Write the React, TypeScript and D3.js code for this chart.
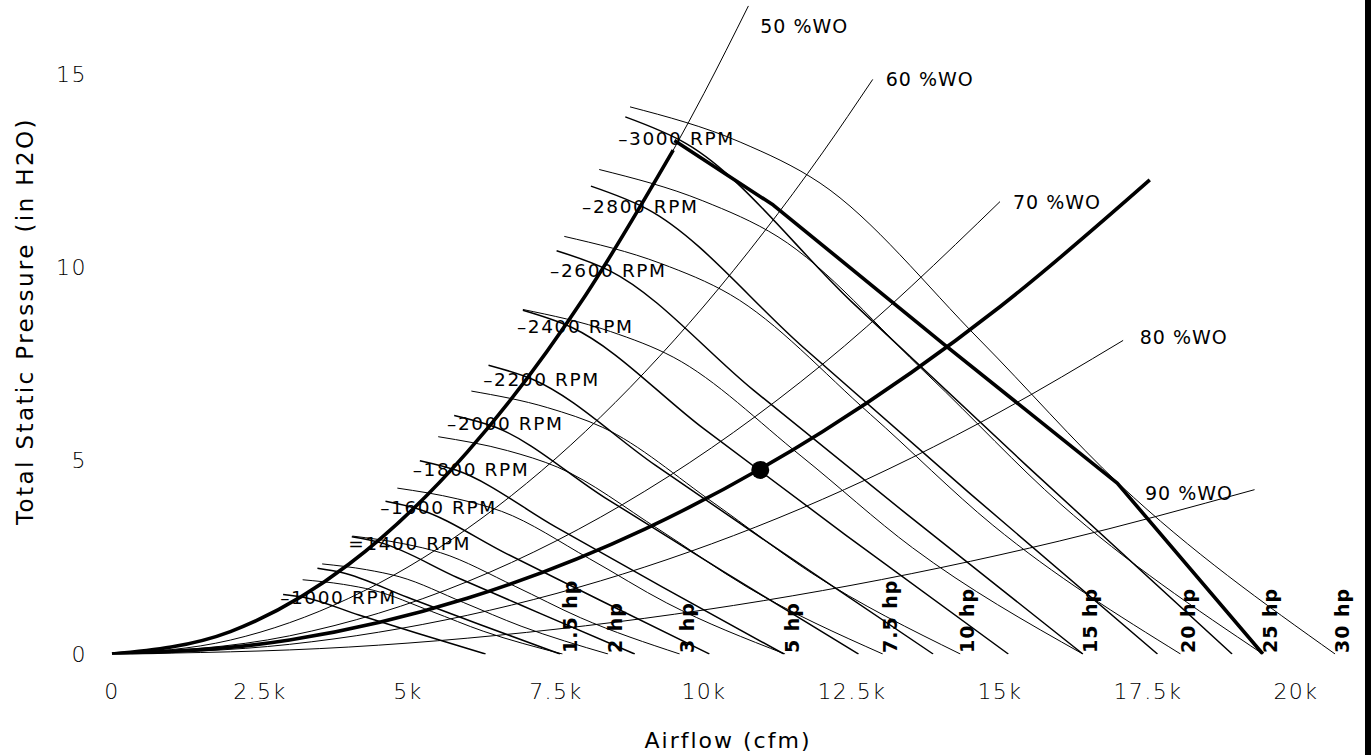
import React from 'react';
import * as d3 from 'd3';

const W = 1371;
const H = 755;

// axis ticks
const xTickValues = [0, 2.5, 5, 7.5, 10, 12.5, 15, 17.5, 20];
const xTickLabels = ['0', '2.5k', '5k', '7.5k', '10k', '12.5k', '15k', '17.5k', '20k'];
const yTickValues = [0, 5, 10, 15];
const yTickLabels = ['0', '5', '10', '15'];

// fan speed curves: [airflow (k cfm), static pressure (in H2O)]
const rpmNames = ['1000', '1200', '1400', '1600', '1800', '2000', '2200', '2400', '2600', '2800', '3000'];
const rpm1000 = [[2.89, 1.54], [3.23, 1.47], [4.17, 1.01], [5.17, 0.53], [6.31, 0]];
const rpm1200 = [[3.47, 2.22], [3.88, 2.11], [5.0, 1.46], [6.2, 0.77], [7.57, 0]];
const rpm1400 = [[4.05, 3.03], [4.53, 2.88], [5.83, 1.98], [7.23, 1.05], [8.83, 0]];
const rpm1600 = [[4.62, 3.95], [5.17, 3.75], [6.67, 2.59], [8.27, 1.37], [10.09, 0]];
const rpm1800 = [[5.2, 5.0], [5.82, 4.75], [7.5, 3.28], [9.3, 1.73], [11.35, 0]];
const rpm2000 = [[5.78, 6.17], [6.47, 5.87], [8.33, 4.04], [10.33, 2.13], [12.61, 0]];
const rpm2200 = [[6.36, 7.47], [7.11, 7.1], [9.17, 4.89], [11.37, 2.58], [13.87, 0]];
const rpm2400 = [[6.94, 8.89], [7.76, 8.45], [10.0, 5.82], [12.4, 3.07], [15.14, 0]];
const rpm2600 = [[7.51, 10.43], [8.41, 9.91], [10.83, 6.83], [13.43, 3.61], [16.4, 0]];
const rpm2800 = [[8.09, 12.1], [9.05, 11.5], [11.67, 7.94], [14.47, 4.18], [17.66, 0]];
const rpm3000 = [[8.67, 13.89], [9.7, 13.2], [12.5, 9.1], [15.5, 4.8], [18.92, 0]];
const rpmCurves = [rpm1000, rpm1200, rpm1400, rpm1600, rpm1800, rpm2000, rpm2200, rpm2400, rpm2600, rpm2800, rpm3000];

// RPM label anchors (airflow, pressure)
const rpmLabelText = ['–3000 RPM', '–2800 RPM', '–2600 RPM', '–2400 RPM', '–2200 RPM', '–2000 RPM', '–1800 RPM', '–1600 RPM', '=1400 RPM', '–1000 RPM'];
const rpmLabelQ = [8.55, 7.94, 7.4, 6.84, 6.27, 5.66, 5.08, 4.53, 3.99, 2.84];
const rpmLabelP = [13.34, 11.56, 9.93, 8.48, 7.11, 5.95, 4.78, 3.78, 2.87, 1.45];

// brake horsepower curves
const hpNames = ['1.5 hp', '2 hp', '3 hp', '5 hp', '7.5 hp', '10 hp', '15 hp', '20 hp', '25 hp', '30 hp'];
const hp1_5 = [[3.22, 1.92], [3.91, 1.8], [4.41, 1.65], [5.4, 1.1], [6.27, 0.59], [7.61, 0]];
const hp2 = [[3.55, 2.33], [4.3, 2.18], [4.85, 2.0], [5.94, 1.33], [6.91, 0.72], [8.38, 0]];
const hp3 = [[4.06, 3.05], [4.93, 2.85], [5.55, 2.62], [6.81, 1.75], [7.91, 0.94], [9.59, 0]];
const hp5 = [[4.82, 4.29], [5.84, 4.01], [6.58, 3.69], [8.07, 2.46], [9.37, 1.32], [11.37, 0]];
const hp7_5 = [[5.51, 5.62], [6.68, 5.26], [7.53, 4.83], [9.24, 3.22], [10.73, 1.73], [13.02, 0]];
const hp10 = [[6.07, 6.8], [7.36, 6.37], [8.29, 5.86], [10.17, 3.9], [11.81, 2.1], [14.33, 0]];
const hp15 = [[6.94, 8.91], [8.42, 8.34], [9.49, 7.67], [11.64, 5.12], [13.52, 2.75], [16.4, 0]];
const hp20 = [[7.64, 10.8], [9.27, 10.1], [10.45, 9.29], [12.81, 6.2], [14.88, 3.33], [18.05, 0]];
const hp25 = [[8.23, 12.53], [9.98, 11.72], [11.25, 10.79], [13.8, 7.19], [16.03, 3.87], [19.44, 0]];
const hp30 = [[8.75, 14.15], [10.61, 13.24], [11.96, 12.18], [14.66, 8.12], [17.03, 4.37], [20.66, 0]];
const hpCurves = [hp1_5, hp2, hp3, hp5, hp7_5, hp10, hp15, hp20, hp25, hp30];

// % wide open system lines
const woNames = ['50 %WO', '60 %WO', '70 %WO', '80 %WO', '90 %WO'];
const wo50 = [[0, 0], [2, 0.58], [4, 2.32], [6, 5.22], [8, 9.28], [10, 14.5], [10.75, 16.76]];
const wo60 = [[0, 0], [2, 0.36], [4, 1.44], [6, 3.24], [8, 5.76], [10, 9.0], [12, 12.96], [12.85, 14.86]];
const wo70 = [[0, 0], [3, 0.47], [6, 1.87], [9, 4.21], [12, 7.49], [15, 11.7]];
const wo80 = [[0, 0], [3, 0.25], [6, 1.0], [9, 2.25], [12, 4.0], [15, 6.26], [17.08, 8.11]];
const wo90 = [[0, 0], [4, 0.18], [8, 0.73], [12, 1.64], [16, 2.92], [19.3, 4.25]];
const woCurves = [wo50, wo60, wo70, wo80, wo90];
const woLabelQ = [10.95, 13.07, 15.22, 17.36, 17.45];
const woLabelP = [16.24, 14.87, 11.69, 8.2, 4.16];

// bold envelope lines
const surgeLine = [[0, 0], [2, 0.58], [4, 2.32], [6, 5.22], [8, 9.28], [9.48, 13.03]];
const maxLine = [[9.5, 13.28], [11.17, 11.61], [14.07, 7.99], [16.98, 4.42], [19.44, 0]];
const systemCurve = [[0, 0], [3, 0.36], [6, 1.44], [9, 3.23], [12, 5.75], [15, 8.98], [17.53, 12.26]];
const operatingPoint = [10.95, 4.76];

const FONT = '"DejaVu Sans", sans-serif';

export default function App() {
  const x = d3.scaleLinear().domain([0, 20]).range([112, 1296]);
  const y = d3.scaleLinear().domain([0, 15]).range([654, 74]);
  const smooth = d3.line<number[]>().x(d => x(d[0])).y(d => y(d[1])).curve(d3.curveMonotoneX);
  const straight = d3.line<number[]>().x(d => x(d[0])).y(d => y(d[1])).curve(d3.curveLinear);

  return (
    <svg width={W} height={H} style={{ position: 'absolute', left: 0, top: 0, background: '#fff' }} fontFamily={FONT}>
      <rect x={0} y={0} width={W} height={H} fill="#fff" />
      <defs>
        <clipPath id="plotClip">
          <rect x={0} y={0} width={1360} height={y(0) + 0.5} />
        </clipPath>
      </defs>
      <g clipPath="url(#plotClip)" fill="none" stroke="#000">
        {woCurves.map((c, i) => (
          <path key={'wo' + i} d={smooth(c) || ''} strokeWidth={1} />
        ))}
        {hpCurves.map((c, i) => (
          <path key={'hp' + i} d={smooth(c) || ''} strokeWidth={1} />
        ))}
        {rpmCurves.map((c, i) => (
          <path key={'rpm' + i} d={smooth(c) || ''} strokeWidth={1.5} />
        ))}
        <path d={smooth(surgeLine) || ''} strokeWidth={3.6} />
        <path d={straight(maxLine) || ''} strokeWidth={3.6} strokeLinejoin="round" />
        <path d={smooth(systemCurve) || ''} strokeWidth={3.6} />
      </g>
      <circle cx={x(operatingPoint[0])} cy={y(operatingPoint[1])} r={9} fill="#000" />

      {rpmLabelText.map((t, i) => (
        <text key={'rl' + i} x={x(rpmLabelQ[i])} y={y(rpmLabelP[i])} dy="0.35em" fontSize={18.5} letterSpacing={1.6} fill="#000">{t}</text>
      ))}
      {woNames.map((t, i) => (
        <text key={'wl' + i} x={x(woLabelQ[i])} y={y(woLabelP[i])} dy="0.35em" fontSize={19} letterSpacing={1} fill="#000">{t}</text>
      ))}
      {hpCurves.map((c, i) => {
        const end = c[c.length - 1];
        return (
          <text key={'hl' + i} transform={`translate(${x(end[0]) + 14},${y(0) - 1}) rotate(-90)`} fontSize={19} fontWeight="bold" letterSpacing={1} fill="#000">{hpNames[i]}</text>
        );
      })}

      {xTickValues.map((v, i) => (
        <text key={'xt' + i} x={x(v)} y={691} dy="0.35em" textAnchor="middle" fontSize={22} fontWeight={300} letterSpacing={1.5} fill="#000">{xTickLabels[i]}</text>
      ))}
      {yTickValues.map((v, i) => (
        <text key={'yt' + i} x={87} y={y(v)} dy="0.35em" textAnchor="end" fontSize={22} fontWeight={300} letterSpacing={1.5} fill="#000">{yTickLabels[i]}</text>
      ))}
      <text x={728} y={740} dy="0.35em" textAnchor="middle" fontSize={22} letterSpacing={2} fill="#000">Airflow (cfm)</text>
      <text transform={`translate(25,321) rotate(-90)`} dy="0.35em" textAnchor="middle" fontSize={23} letterSpacing={2.4} fill="#000">Total Static Pressure (in H2O)</text>

      <rect x={1365} y={0} width={6} height={H} fill="#000" />
    </svg>
  );
}
